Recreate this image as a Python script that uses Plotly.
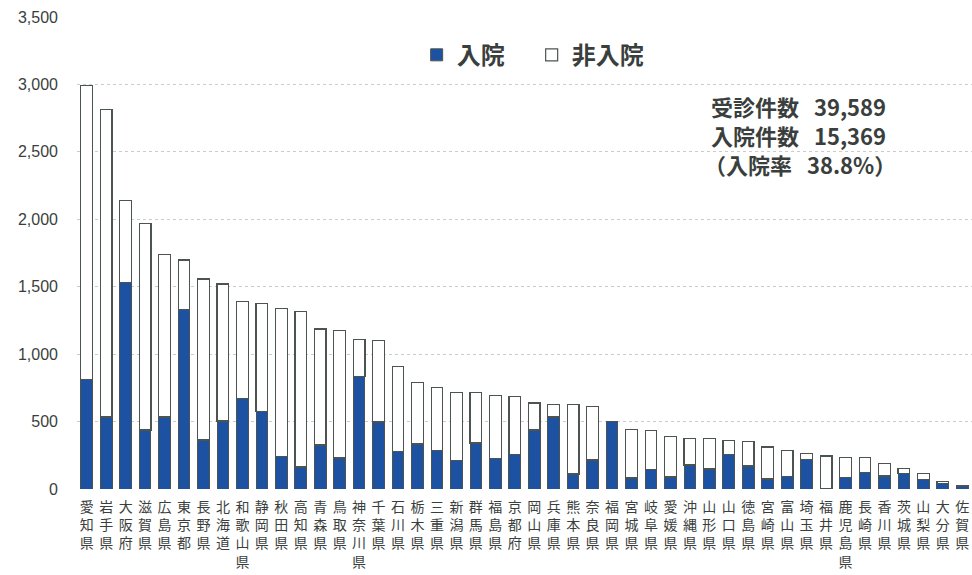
import plotly.graph_objects as go

# 都道府県別 受診件数（入院／非入院）
prefectures = [
    "愛知県", "岩手県", "大阪府", "滋賀県", "広島県", "東京都", "長野県", "北海道",
    "和歌山県", "静岡県", "秋田県", "高知県", "青森県", "鳥取県", "神奈川県", "千葉県",
    "石川県", "栃木県", "三重県", "新潟県", "群馬県", "福島県", "京都府", "岡山県",
    "兵庫県", "熊本県", "奈良県", "福岡県", "宮城県", "岐阜県", "愛媛県", "沖縄県",
    "山形県", "山口県", "徳島県", "宮崎県", "富山県", "埼玉県", "福井県", "鹿児島県",
    "長崎県", "香川県", "茨城県", "山梨県", "大分県", "佐賀県",
]

inpatient = [
    814, 534, 1532, 438, 534, 1329, 364, 505,
    670, 574, 240, 163, 327, 230, 834, 497,
    280, 334, 285, 210, 341, 228, 255, 438,
    534, 111, 215, 500, 82, 146, 89, 178,
    148, 257, 171, 74, 94, 218, 0, 84,
    124, 96, 114, 69, 42, 18,
]

outpatient = [
    2180, 2280, 606, 1529, 1203, 369, 1193, 1015,
    723, 802, 1099, 1156, 859, 948, 275, 602,
    626, 455, 467, 503, 372, 465, 430, 200,
    94, 517, 394, 0, 361, 287, 299, 198,
    228, 102, 180, 238, 190, 47, 245, 151,
    111, 92, 37, 45, 15, 4,
]

y_ticks = [0, 500, 1000, 1500, 2000, 2500, 3000, 3500]
y_tick_text = ["0", "500", "1,000", "1,500", "2,000", "2,500", "3,000", "3,500"]

GAP = "\u00a0\u00a0\u00a0"
summary_lines = ["受診件数" + GAP + "39,589", "入院件数" + GAP + "15,369", "（入院率" + GAP + "38.8%）"]
summary_y = [0.8114, 0.750, 0.6886]
summary_x = [0.707, 0.707, 0.699]

# 縦書きラベル（1文字ずつ改行）
vertical_labels = ["<br>".join(list(p)) for p in prefectures]

TEXT = "#3a3f3d"
EDGE = "#4b5451"
BLUE = "#1d52a3"
JP = "Noto Sans CJK JP"

fig = go.Figure()
fig.add_trace(go.Bar(
    x=prefectures, y=inpatient, name="入院",
    marker=dict(color=BLUE, line=dict(color=EDGE, width=1)),
    width=0.6,
))
fig.add_trace(go.Bar(
    x=prefectures, y=outpatient, name="非入院",
    marker=dict(color="white", line=dict(color=EDGE, width=1.2)),
    width=0.6,
))

annotations = [
    dict(
        text=line, xref="paper", yref="paper", x=xx, y=yy,
        xanchor="left", yanchor="middle", align="left", showarrow=False,
        borderpad=0,
        font=dict(size=22, family=JP, color=TEXT, weight="bold"),
    )
    for line, xx, yy in zip(summary_lines, summary_x, summary_y)
]

fig.update_layout(
    width=972, height=575,
    margin=dict(l=77, r=0, t=17, b=86),
    barmode="stack",
    plot_bgcolor="white", paper_bgcolor="white",
    font=dict(family=JP, color=TEXT),
    showlegend=True,
    legend=dict(
        orientation="h", traceorder="normal",
        x=0.508, xanchor="center", y=0.919, yanchor="middle",
        font=dict(size=24, family=JP, color=TEXT, weight="bold"),
        entrywidth=70, entrywidthmode="pixels",
        bgcolor="rgba(0,0,0,0)",
    ),
    annotations=annotations,
)

fig.update_xaxes(
    type="category", range=[-0.5, 45.5],
    tickmode="array", tickvals=prefectures, ticktext=vertical_labels,
    tickfont=dict(size=14, family=JP, color=TEXT),
    showgrid=False, showline=False, ticks="", ticklabelstandoff=8,
)
fig.update_yaxes(
    range=[0, 3500], tickmode="array", tickvals=y_ticks, ticktext=y_tick_text,
    tickfont=dict(size=16, family="Liberation Sans", color=TEXT),
    showgrid=True, gridcolor="#c9cccb", gridwidth=1, griddash="dot",
    zeroline=False, showline=False, ticks="", ticklabelstandoff=18,
)

fig.write_html("out.html")
